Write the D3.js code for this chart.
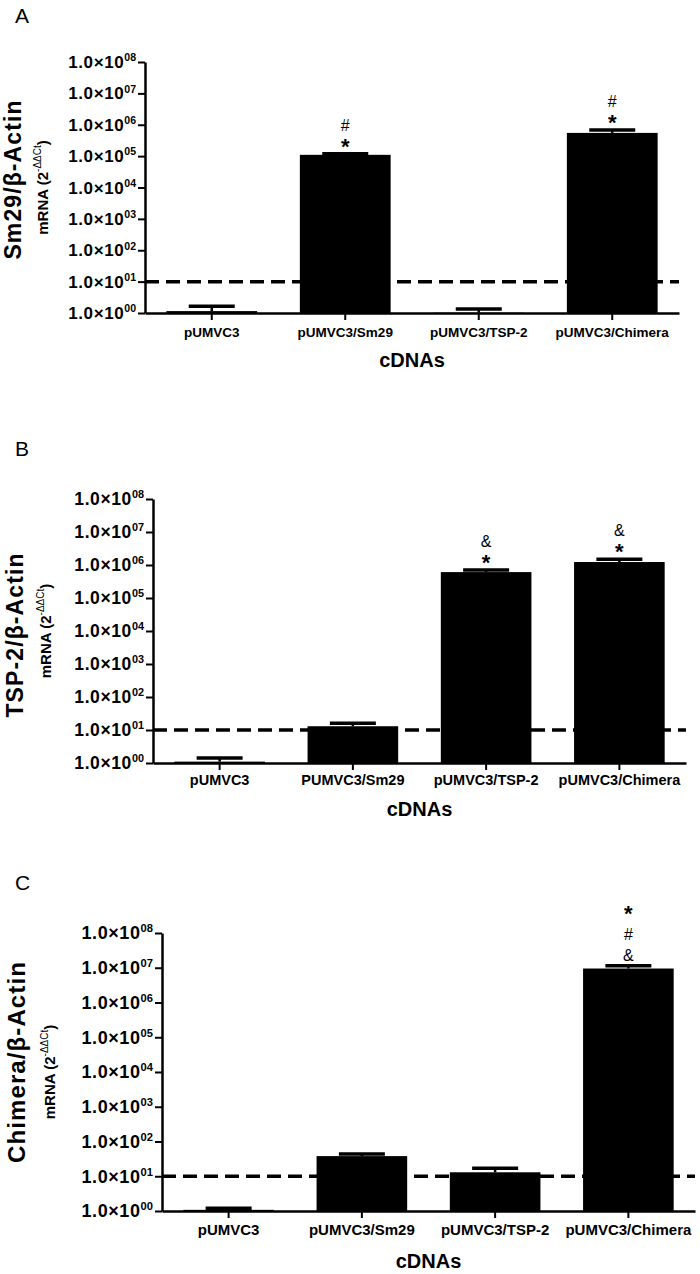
<!DOCTYPE html>
<html>
<head>
<meta charset="utf-8">
<script src="https://cdn.jsdelivr.net/npm/d3@7"></script>
<style>
	body { margin: 0; background: #fff; }
	text { font-family: Arial, "Liberation Sans", sans-serif; }
</style>
</head>
<body>
<svg id="fig" width="700" height="1274"></svg>
<script>
// values (2^-ddCt, log axis)
var categoriesA = ['pUMVC3', 'pUMVC3/Sm29', 'pUMVC3/TSP-2', 'pUMVC3/Chimera'];
var categoriesB = ['pUMVC3', 'PUMVC3/Sm29', 'pUMVC3/TSP-2', 'pUMVC3/Chimera'];
var categoriesC = ['pUMVC3', 'pUMVC3/Sm29', 'pUMVC3/TSP-2', 'pUMVC3/Chimera'];

var meanA = [1.15, 1.1e5, 1.02, 5.5e5];
var upperA = [1.65, 1.2e5, 1.35, 6.8e5];
var meanB = [1.1, 13, 6.1e5, 1.23e6];
var upperB = [1.42, 16, 7.0e5, 1.5e6];
var meanC = [1.08, 38, 13, 9.5e6];
var upperC = [1.2, 44, 17, 1.15e7];

// significance marks, listed from the bar upwards
var marksA = [[], ['*', '#'], [], ['*', '#']];
var marksB = [[], [], ['*', '&'], ['*', '&']];
var marksC = [[], [], [], ['&', '#', '*']];

var tickValues = [1e0, 1e1, 1e2, 1e3, 1e4, 1e5, 1e6, 1e7, 1e8];
var tickExponents = ['00', '01', '02', '03', '04', '05', '06', '07', '08'];
var cutoff = 10;

var svg = d3.select('#fig');

function drawPanel(p) {
	var g = svg.append('g');

	var x = d3.scaleBand().domain(p.cats).range([p.x0, p.x1])
		.paddingInner(0.32).paddingOuter(0.16);
	var y = d3.scaleLog().domain([1, 1e8]).range([p.yBot, p.yTop]);

	// panel letter
	g.append('text').attr('x', 15).attr('y', p.letterY)
		.attr('font-size', 21).text(p.letter);

	// bars
	g.selectAll('rect.bar').data(p.means).enter().append('rect')
		.attr('x', function(d, i){ return x(p.cats[i]); })
		.attr('width', x.bandwidth())
		.attr('y', function(d){ return y(d); })
		.attr('height', function(d){ return p.yBot - y(d); })
		.attr('fill', '#000');

	// error bars (upper only)
	p.uppers.forEach(function(u, i){
		var cx = x(p.cats[i]) + x.bandwidth() / 2;
		g.append('line').attr('x1', cx).attr('x2', cx)
			.attr('y1', y(p.means[i])).attr('y2', y(u))
			.attr('stroke', '#000').attr('stroke-width', 2.5);
		g.append('line').attr('x1', cx - 23).attr('x2', cx + 23)
			.attr('y1', y(u)).attr('y2', y(u))
			.attr('stroke', '#000').attr('stroke-width', 3.5);

		// significance symbols
		p.marks[i].forEach(function(m, k){
			var cy = y(u) - 11 - k * p.markGap;
			var star = (m == '*');
			if(star && k > 0) cy -= 3; // a bit more room above # / &
			g.append('text').attr('x', cx).attr('y', cy + (star ? 11 : 6))
				.attr('text-anchor', 'middle')
				.attr('font-size', star ? 22 : 16)
				.attr('font-weight', star ? 'bold' : 'normal')
				.text(m);
		});
	});

	// dashed cut-off line
	g.append('line').attr('x1', p.x0).attr('x2', p.x1)
		.attr('y1', y(cutoff)).attr('y2', y(cutoff))
		.attr('stroke', '#000').attr('stroke-width', 3.5)
		.attr('stroke-dasharray', '14,7');

	// y axis
	var yAxis = g.append('g').attr('transform', 'translate(' + p.x0 + ',0)')
		.call(d3.axisLeft(y).tickValues(tickValues).tickFormat('').tickSize(7).tickSizeOuter(0));
	yAxis.select('.domain').attr('stroke-width', 2.5);
	yAxis.selectAll('.tick line').attr('stroke-width', 2);

	var lab = g.selectAll('text.ylab').data(tickValues).enter().append('text')
		.attr('x', p.x0 - 9)
		.attr('y', function(d){ return y(d) + p.tickFont * 0.36; })
		.attr('text-anchor', 'end')
		.attr('font-weight', 'bold');
	lab.append('tspan').attr('font-size', p.tickFont).attr('letter-spacing', 0.6).text('1.0×10');
	lab.append('tspan').attr('font-size', p.tickFont * 0.62).attr('dy', -p.tickFont * 0.4)
		.text(function(d, i){ return tickExponents[i]; });

	// x axis
	var xAxis = g.append('g').attr('transform', 'translate(0,' + p.yBot + ')')
		.call(d3.axisBottom(x).tickSize(7).tickSizeOuter(0));
	xAxis.select('.domain').attr('stroke-width', 2.5);
	xAxis.selectAll('.tick line').attr('stroke-width', 2);
	xAxis.selectAll('text').attr('y', p.labelY - p.yBot).attr('dy', 0)
		.attr('font-size', p.labelFont).attr('font-weight', 'bold')
		.attr('font-family', 'Arial, "Liberation Sans", sans-serif').attr('fill', '#000');

	g.append('text').attr('x', (p.x0 + p.x1) / 2).attr('y', p.cdnaY)
		.attr('text-anchor', 'middle').attr('font-size', 20).attr('font-weight', 'bold')
		.text('cDNAs');

	// y titles
	var cy = (p.yTop + p.yBot) / 2;
	g.append('text').attr('transform', 'translate(' + p.titleX + ',' + (cy + p.titleShift) + ') rotate(-90)')
		.attr('text-anchor', 'middle').attr('font-size', p.titleFont).attr('font-weight', 'bold')
		.attr('letter-spacing', 1.1)
		.text(p.title);
	var m = g.append('text').attr('transform', 'translate(' + p.mrnaX + ',' + cy + ') rotate(-90)')
		.attr('text-anchor', 'middle').attr('font-size', 15).attr('font-weight', 'bold');
	m.append('tspan').text('mRNA (2');
	m.append('tspan').attr('font-size', 10).attr('font-weight', 'normal').attr('dy', -7).text('-ΔΔCt');
	m.append('tspan').attr('dy', 7).text(')');
}

drawPanel({
	letter: 'A', letterY: 23, title: 'Sm29/β-Actin',
	cats: categoriesA, means: meanA, uppers: upperA, marks: marksA,
	x0: 145, x1: 679, yTop: 62, yBot: 313,
	tickFont: 17, labelFont: 13.5, labelY: 337, cdnaY: 367,
	titleX: 21, titleShift: -8, mrnaX: 48, titleFont: 23, markGap: 18
});
drawPanel({
	letter: 'B', letterY: 456, title: 'TSP-2/β-Actin',
	cats: categoriesB, means: meanB, uppers: upperB, marks: marksB,
	x0: 153, x1: 686, yTop: 499, yBot: 763,
	tickFont: 17.5, labelFont: 14.5, labelY: 785, cdnaY: 816,
	titleX: 23, titleShift: 4, mrnaX: 51, titleFont: 23, markGap: 18
});
drawPanel({
	letter: 'C', letterY: 890, title: 'Chimera/β-Actin',
	cats: categoriesC, means: meanC, uppers: upperC, marks: marksC,
	x0: 162, x1: 695, yTop: 933, yBot: 1211,
	tickFont: 18, labelFont: 15, labelY: 1235, cdnaY: 1268,
	titleX: 25, titleShift: -10, mrnaX: 55, titleFont: 24, markGap: 21
});
</script>
</body>
</html>
